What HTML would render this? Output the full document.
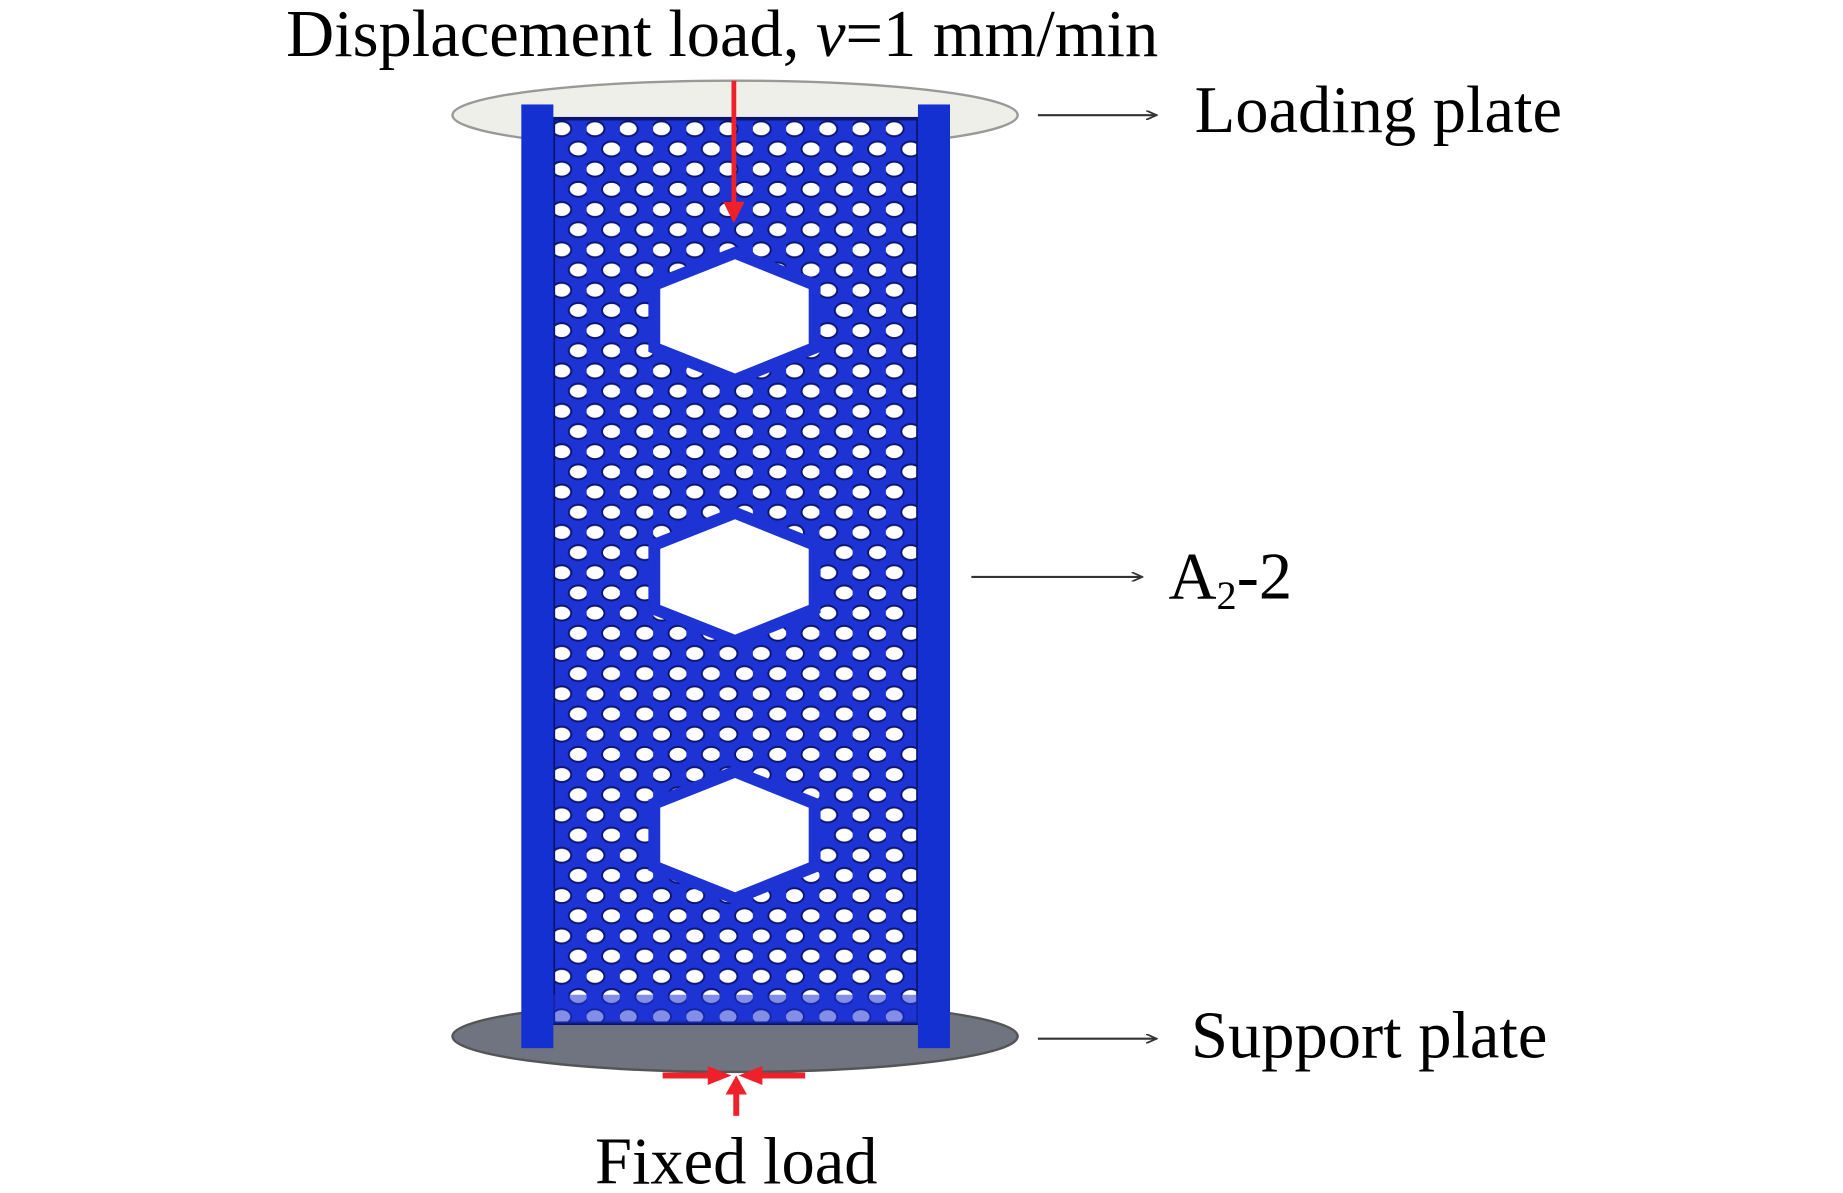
<!DOCTYPE html>
<html><head><meta charset="utf-8"><style>
html,body{margin:0;padding:0;background:#fff}
svg{display:block}
text{font-family:"Liberation Serif",serif;fill:#000}
</style></head><body>
<svg width="1843" height="1193" viewBox="0 0 1552 1005" preserveAspectRatio="none" xmlns="http://www.w3.org/2000/svg">
<defs>
<pattern id="lat" x="470" y="100" width="28" height="34" patternUnits="userSpaceOnUse">
<rect width="28" height="34" fill="#1d33d4"/>
<ellipse cx="7" cy="8.5" rx="8" ry="6.3" fill="#fff" stroke="#0b1570" stroke-width="1.6"/>
<ellipse cx="21" cy="25.5" rx="8" ry="6.3" fill="#fff" stroke="#0b1570" stroke-width="1.6"/>
</pattern>
<marker id="ah" markerWidth="10" markerHeight="8" refX="9" refY="4" orient="auto" markerUnits="userSpaceOnUse">
<path d="M0,0 L9,4 L0,8" fill="none" stroke="#333" stroke-width="1.5"/>
</marker>
</defs>
<g transform="translate(-4,0)">
<text x="245" y="47" font-size="56">Displacement load, <tspan font-style="italic">v</tspan>=1 mm/min</text>
<ellipse cx="623" cy="97" rx="238" ry="29" fill="#efefea" stroke="#999" stroke-width="2"/>
<ellipse cx="623" cy="873" rx="238" ry="30" fill="#6f7480" stroke="#555" stroke-width="2"/>
<rect x="470" y="100" width="307" height="762" fill="url(#lat)"/>
<rect x="470" y="100" width="307" height="762" fill="none" stroke="#0b1570" stroke-width="3"/>
<rect x="470" y="838" width="307" height="24" fill="#1d33d4" opacity="0.55"/>
<g fill="#fff" stroke="#1d33d4" stroke-width="10" stroke-linejoin="miter">
<polygon points="555,240 623,213 690,240 690,293 623,320 555,293"/>
<polygon points="555,459 623,432 690,459 690,513 623,540 555,513"/>
<polygon points="555,677 623,650 690,677 690,730 623,757 555,730"/>
</g>
<rect x="443" y="88" width="27" height="795" fill="#1530d0"/>
<rect x="777" y="88" width="27" height="795" fill="#1530d0"/>
<line x1="622" y1="68" x2="622" y2="175" stroke="#f0202a" stroke-width="4"/>
<polygon points="613,170 631,170 622,188" fill="#f0202a"/>
<line x1="562" y1="906" x2="606" y2="906" stroke="#f0202a" stroke-width="5"/>
<polygon points="600,898 600,914 620,906" fill="#f0202a"/>
<line x1="640" y1="906" x2="682" y2="906" stroke="#f0202a" stroke-width="5"/>
<polygon points="646,898 646,914 626,906" fill="#f0202a"/>
<line x1="624" y1="940" x2="624" y2="918" stroke="#f0202a" stroke-width="5"/>
<polygon points="615,922 633,922 624,906" fill="#f0202a"/>
<text x="624" y="997" font-size="56" text-anchor="middle">Fixed load</text>
<line x1="878" y1="97" x2="978" y2="97" stroke="#333" stroke-width="1.8" marker-end="url(#ah)"/>
<text x="1010" y="111" font-size="56">Loading plate</text>
<line x1="822" y1="486" x2="966" y2="486" stroke="#333" stroke-width="1.8" marker-end="url(#ah)"/>
<text x="988" y="504" font-size="56">A<tspan font-size="34" dy="9">2</tspan><tspan dy="-9">-2</tspan></text>
<line x1="878" y1="875" x2="978" y2="875" stroke="#333" stroke-width="1.8" marker-end="url(#ah)"/>
<text x="1007" y="891" font-size="56">Support plate</text>
</g>
</svg>
</body></html>
